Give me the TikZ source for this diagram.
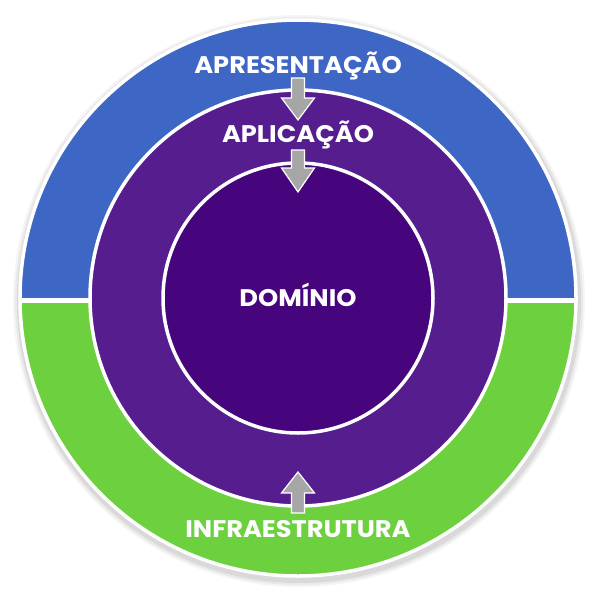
\documentclass[tikz,border=0pt]{standalone}
\usepackage{fontspec}
\setmainfont{Poppins}[FakeStretch=1.07]
\definecolor{layerblue}{HTML}{3E67C5}
\definecolor{layergreen}{HTML}{6DD13F}
\definecolor{layerpurple}{HTML}{561D8F}
\definecolor{layercore}{HTML}{46057D}
\definecolor{arrowgray}{HTML}{A6A6A6}
\newcommand{\layerfont}{\fontsize{24}{27}\selectfont\bfseries}
\begin{document}
\begin{tikzpicture}[x=1pt, y=-1pt, every node/.style={font=\layerfont, text=white, inner sep=0pt, anchor=base},
  ring/.style={draw=white, line width=3.5pt}]
  \useasboundingbox (0,0) rectangle (597,597);
  % soft shadow
  \foreach \r/\o in {286/0.04, 284/0.05, 282/0.07} {
    \fill[black, opacity=\o] (299,301) circle (\r pt);
  }
  % outer ring, two halves
  \begin{scope}
    \clip (298,298) circle (278pt);
    \fill[layerblue] (0,0) rectangle (597,300);
    \fill[layergreen] (0,300) rectangle (597,597);
  \end{scope}
  \draw[white, line width=5pt] (20,300) -- (576,300);
  \draw[ring] (298,298) circle (278pt);
  \filldraw[ring, fill=layerpurple] (298,298) circle (208pt);
  \filldraw[ring, fill=layercore] (298,298) circle (135pt);
  % block arrows
  \foreach \ytop/\ybase/\ytip in {78/98/120, 150/168/192, 513/493/472} {
    \filldraw[fill=arrowgray, draw=white, line width=1.2pt, line join=miter]
      (291.5,\ytop) -- (304.5,\ytop) -- (304.5,\ybase) -- (314.5,\ybase) -- (298,\ytip)
      -- (281.5,\ybase) -- (291.5,\ybase) -- cycle;
  }
  \node (apres) at (298,73) {APRESENTAÇÃO};
  \node (aplic) at (298,142) {APLICAÇÃO};
  \node (dom) at (298,306) {DOMÍNIO};
  \node (infra) at (298,537) {INFRAESTRUTURA};
\end{tikzpicture}
\end{document}
